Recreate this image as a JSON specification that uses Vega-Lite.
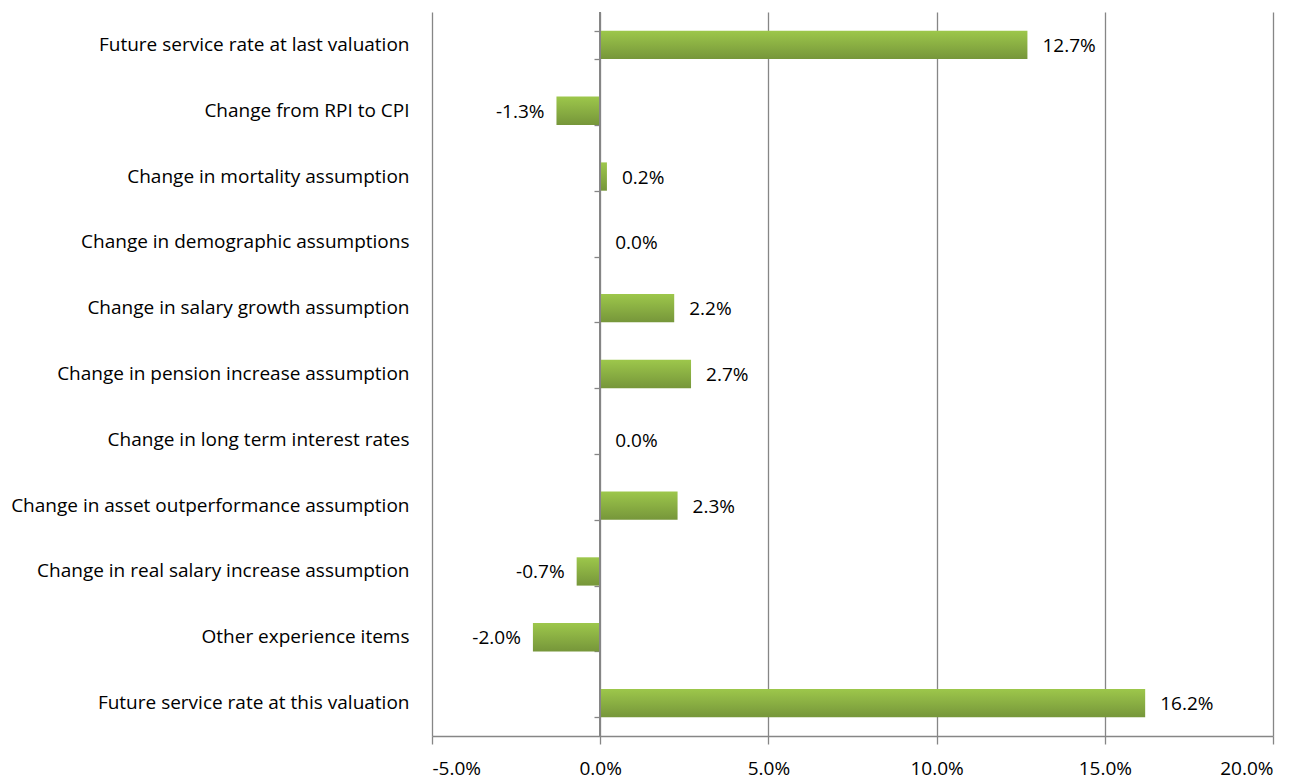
{
  "$schema": "https://vega.github.io/schema/vega-lite/v6.json",
  "autosize": {"type": "none"},
  "width": 841,
  "height": 724,
  "padding": {"left": 432, "top": 12, "right": 30, "bottom": 46},
  "background": "white",
  "config": {
    "font": "Open Sans",
    "view": {"stroke": null},
    "locale": {"number": {"decimal": ".", "thousands": ",", "grouping": [3], "currency": ["$", ""], "minus": "-"}}
  },
  "data": {
    "values": [
      {"item": "Future service rate at last valuation", "value": 0.127},
      {"item": "Change from RPI to CPI", "value": -0.013},
      {"item": "Change in mortality assumption", "value": 0.002},
      {"item": "Change in demographic assumptions", "value": 0.0},
      {"item": "Change in salary growth assumption", "value": 0.022},
      {"item": "Change in pension increase assumption", "value": 0.027},
      {"item": "Change in long term interest rates", "value": 0.0},
      {"item": "Change in asset outperformance assumption", "value": 0.023},
      {"item": "Change in real salary increase assumption", "value": -0.007},
      {"item": "Other experience items", "value": -0.02},
      {"item": "Future service rate at this valuation", "value": 0.162}
    ]
  },
  "layer": [
    {
      "mark": {
        "type": "bar",
        "color": {
          "gradient": "linear",
          "x1": 0, "y1": 0, "x2": 0, "y2": 1,
          "stops": [
            {"offset": 0, "color": "#9dc74b"},
            {"offset": 1, "color": "#76963a"}
          ]
        }
      },
      "encoding": {
        "y": {
          "field": "item",
          "type": "nominal",
          "sort": null,
          "scale": {"paddingInner": 0.57, "paddingOuter": 0.285},
          "axis": {
            "orient": "left",
            "title": null,
            "domain": false,
            "ticks": false,
            "labelFontSize": 19,
            "labelColor": "#000000",
            "labelPadding": 23,
            "labelLimit": 500
          }
        },
        "x": {
          "field": "value",
          "type": "quantitative",
          "scale": {"domain": [-0.05, 0.2], "nice": false, "zero": false},
          "axis": {
            "title": null,
            "format": ".1%",
            "values": [-0.05, 0, 0.05, 0.1, 0.15, 0.2],
            "grid": true,
            "gridColor": "#868686",
            "gridWidth": 1.3,
            "domainColor": "#868686",
            "domainWidth": 1.3,
            "tickColor": "#868686",
            "tickWidth": 1.3,
            "tickSize": 8,
            "labelFontSize": 19,
            "labelColor": "#000000",
            "labelPadding": 15
          }
        }
      }
    },
    {
      "mark": {"type": "rule", "color": "#868686", "strokeWidth": 1.3},
      "encoding": {
        "x": {"datum": 0, "type": "quantitative"},
        "y": {
          "field": "item",
          "type": "nominal",
          "sort": null,
          "axis": {
            "orient": "right",
            "offset": -673,
            "title": null,
            "labels": false,
            "domain": false,
            "ticks": true,
            "tickBand": "extent",
            "tickSize": -6,
            "tickColor": "#868686",
            "tickWidth": 1.3
          }
        }
      }
    },
    {
      "mark": {"type": "rule", "color": "#868686", "strokeWidth": 1.3},
      "encoding": {
        "x": {"datum": 0, "type": "quantitative"},
        "y": {"value": 0},
        "y2": {"value": 724}
      }
    },
    {
      "transform": [{"filter": "datum.value >= 0"}],
      "mark": {"type": "text", "align": "left", "dx": 15, "fontSize": 19, "color": "#000000", "baseline": "middle", "dy": 1},
      "encoding": {
        "y": {"field": "item", "type": "nominal", "sort": null, "axis": null},
        "x": {"field": "value", "type": "quantitative"},
        "text": {"field": "value", "type": "quantitative", "format": ".1%"}
      }
    },
    {
      "transform": [{"filter": "datum.value < 0"}],
      "mark": {"type": "text", "align": "right", "dx": -12, "fontSize": 19, "color": "#000000", "baseline": "middle", "dy": 1},
      "encoding": {
        "y": {"field": "item", "type": "nominal", "sort": null, "axis": null},
        "x": {"field": "value", "type": "quantitative"},
        "text": {"field": "value", "type": "quantitative", "format": ".1%"}
      }
    }
  ],
  "resolve": {"axis": {"y": "independent"}}
}
